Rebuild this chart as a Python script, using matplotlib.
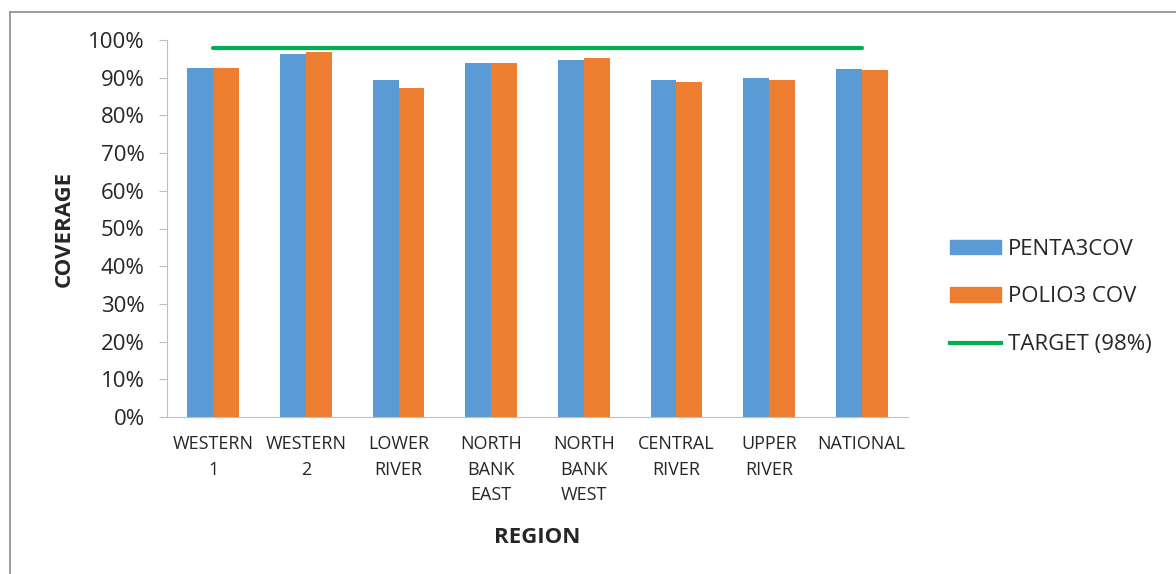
import numpy as np
import matplotlib.pyplot as plt
from matplotlib.lines import Line2D
from matplotlib.patches import Patch
from matplotlib.ticker import PercentFormatter

plt.rcParams['font.family'] = ['Open Sans', 'DejaVu Sans']

regions = ["WESTERN\n1", "WESTERN\n2", "LOWER\nRIVER", "NORTH\nBANK\nEAST",
           "NORTH\nBANK\nWEST", "CENTRAL\nRIVER", "UPPER\nRIVER", "NATIONAL"]
penta3 = [92.5, 96.4, 89.3, 93.8, 94.8, 89.3, 90.0, 92.4]
polio3 = [92.5, 96.8, 87.3, 93.8, 95.1, 88.9, 89.3, 92.0]
target = 98

blue = "#5b9bd5"
orange = "#ed7d31"
green = "#00b050"
text_col = "#262626"

fig = plt.figure(figsize=(11.76, 5.74), dpi=100)
ax = fig.add_axes([167 / 1176, 1 - 417 / 574, 741 / 1176, 377 / 574])

x = np.arange(len(regions))
w = 0.28
ax.bar(x - w / 2, penta3, width=w, color=blue)
ax.bar(x + w / 2, polio3, width=w, color=orange)
ax.plot([x[0], x[-1]], [target, target], color=green, lw=3, solid_capstyle="round")

ax.set_xlim(-0.5, len(regions) - 0.5)
ax.set_ylim(0, 100)
ax.set_yticks(np.arange(0, 101, 10))
ax.yaxis.set_major_formatter(PercentFormatter(decimals=0))
ax.set_xticks(x)
ax.set_xticklabels(regions, fontsize=13, color=text_col, linespacing=1.55)
ax.tick_params(axis="x", length=0, pad=13)
ax.tick_params(axis="y", labelsize=16, labelcolor=text_col, color="#bfbfbf",
               length=6, pad=10)

for side in ["top", "right"]:
    ax.spines[side].set_visible(False)
ax.spines["left"].set_color("#bfbfbf")
ax.spines["bottom"].set_color("#bfbfbf")

ax.set_ylabel("COVERAGE", fontsize=16, fontweight="bold", color=text_col, labelpad=10)
ax.set_xlabel("REGION", fontsize=16, fontweight="bold", color=text_col, labelpad=16)

handles = [Patch(color=blue), Patch(color=orange),
           Line2D([0], [0], color=green, lw=3)]
labels = ["PENTA3COV", "POLIO3 COV", "TARGET (98%)"]
fig.legend(handles, labels, loc="center left", bbox_to_anchor=(930 / 1176, 1 - 297 / 574),
           frameon=False, fontsize=16, handlelength=2.3, handleheight=0.65,
           labelspacing=1.2, handletextpad=0.3, labelcolor=text_col)

# outer chart border
fig.add_artist(Line2D([9.5 / 1176, 9.5 / 1176], [0, 1 - 11.5 / 574],
                      color="#8c8c8c", lw=1.2, transform=fig.transFigure))
fig.add_artist(Line2D([9.5 / 1176, 1], [1 - 11.5 / 574, 1 - 11.5 / 574],
                      color="#8c8c8c", lw=1.2, transform=fig.transFigure))

fig.savefig("out.png", dpi=100)
